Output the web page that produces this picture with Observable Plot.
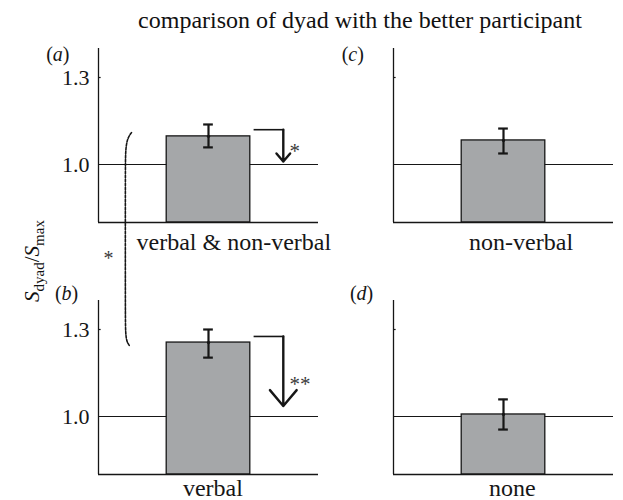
<!DOCTYPE html>
<html>
<head>
<meta charset="utf-8">
<script src="https://cdn.jsdelivr.net/npm/d3@7"></script>
<script src="https://cdn.jsdelivr.net/npm/@observablehq/plot@0.6"></script>
<style>
  html, body { margin: 0; padding: 0; background: #fff; }
  #wrap { position: relative; width: 623px; height: 500px; overflow: hidden; font-family: "Liberation Serif", "DejaVu Serif", serif; color: #111; }
  #title { position: absolute; left: 360px; top: 8px; transform: translateX(-50%); font-size: 24px; line-height: 24px; white-space: nowrap; }
  #ylab { position: absolute; left: 32px; top: 261px; transform: translate(-50%, -50%) rotate(-90deg); font-size: 21px; line-height: 21px; white-space: nowrap; }
  #ylab sub { font-size: 15px; vertical-align: -5px; line-height: 0; }
  #plot { position: absolute; left: 0; top: 0; }
</style>
</head>
<body>
<div id="wrap">
  <div id="plot"></div>
  <div id="title">comparison of dyad with the better participant</div>
  <div id="ylab"><i>S</i><sub>dyad</sub>/<i>S</i><sub>max</sub></div>
</div>
<script>
// ---- data ----
const categories = ["verbal & non-verbal", "non-verbal", "verbal", "none"];
const panelLetters = ["a", "c", "b", "d"];
const panelCols = [0, 1, 0, 1];
const panelRows = [0, 0, 1, 1];
const means   = [1.097, 1.083, 1.255, 1.007];
const errLow  = [1.059, 1.038, 1.203, 0.955];
const errHigh = [1.138, 1.124, 1.300, 1.059];
const sigLabels = ["*", "", "**", ""];
const arrowFrom = [1.12, null, 1.276, null];
const arrowTo   = [1.010, null, 1.036, null];
const yTicks = [1.0, 1.3];
const yDomain = [0.8, 1.4];
const bracketLabel = "*";

// ---- layout constants ----
const W = 623, H = 500;
const mTop = 48, mBottom = 26, mLeft = 98, mRight = 10;
const panelW = 220, panelH = 174, gapX = 75, gapY = 78;
const barHalf = 0.19, capHalf = 0.022, barCenter = 0.5;
const arrowX0 = 0.705, arrowX1 = 0.84;
const labelShift = [0.115, 0.08, 0.02, 0.04];      // category label horizontal nudges (x units)
const labelYByRow = [0.731, 0.754];                // category label centre, per row (y units)
const letterXByRow = [-0.185, -0.145];
const letterYByRow = [1.38, 1.425];

const rows = categories.map((c, i) => ({
  cat: c, letter: panelLetters[i], col: panelCols[i], row: panelRows[i],
  mean: means[i], lo: errLow[i], hi: errHigh[i], sig: sigLabels[i],
  from: arrowFrom[i], to: arrowTo[i], shift: labelShift[i]
}));

const arrowRows = rows.filter(d => d.from != null);

// bracket linking panel (a) bar to panel (b) bar, drawn in panel (a) coordinates
const pxPerUnit = panelH / (yDomain[1] - yDomain[0]);
const rowShift = (panelH + gapY) / pxPerUnit;
const yA = means[0] + 0.013;
const yB = means[2] - rowShift - 0.01;
const bracketPts = [
  [0.150, yA], [0.131, yA - 0.02], [0.123, yA - 0.06], [0.122, yA - 0.12],
  [0.122, yB + 0.10], [0.123, yB + 0.04], [0.129, yB + 0.012], [0.140, yB]
].map(([x, y]) => ({x, y, col: 0, row: 0}));

const pInX = gapX / (panelW + gapX);
const pInY = gapY / (panelH + gapY);

const ink = "#161616";

const svg = Plot.plot({
  width: W, height: H,
  marginTop: mTop, marginBottom: mBottom, marginLeft: mLeft, marginRight: mRight,
  style: {fontFamily: "Liberation Serif, serif", fontSize: "22px", color: ink, background: "transparent", overflow: "visible"},
  fx: {domain: [0, 1], paddingInner: pInX, paddingOuter: 0, axis: null, round: false},
  fy: {domain: [0, 1], paddingInner: pInY, paddingOuter: 0, axis: null, round: false},
  x: {domain: [0, 1], axis: null},
  y: {domain: yDomain},
  marks: [
    Plot.ruleY([1.0], {stroke: ink, strokeWidth: 1.2}),
    Plot.rectY(rows, {x1: barCenter - barHalf, x2: barCenter + barHalf, y1: yDomain[0], y2: "mean", fx: "col", fy: "row", fill: "#a5a7a9", stroke: ink, strokeWidth: 1.3}),
    Plot.ruleX([0], {stroke: ink, strokeWidth: 1.3}),
    Plot.ruleY([yDomain[0]], {stroke: ink, strokeWidth: 1.3}),
    Plot.ruleY([yTicks[1]], {x1: 0, x2: 0.012, stroke: ink, strokeWidth: 1.2}),
    Plot.axisY({ticks: yTicks, tickSize: 0, tickPadding: 9, tickFormat: ".1f", label: null, fontSize: 22}),
    // error bars
    Plot.ruleX(rows, {x: barCenter, y1: "lo", y2: "hi", fx: "col", fy: "row", stroke: ink, strokeWidth: 2.2}),
    Plot.ruleY(rows, {y: "hi", x1: barCenter - capHalf, x2: barCenter + capHalf, fx: "col", fy: "row", stroke: ink, strokeWidth: 2.2}),
    Plot.ruleY(rows, {y: "lo", x1: barCenter - capHalf, x2: barCenter + capHalf, fx: "col", fy: "row", stroke: ink, strokeWidth: 2.2}),
    Plot.dot(rows, {x: barCenter, y: "mean", r: 1.6, fill: ink, fx: "col", fy: "row"}),
    // significance arrows: horizontal lead + downward arrow
    Plot.link(arrowRows, {x1: arrowX0, x2: arrowX1 + 0.004, y1: "from", y2: "from", fx: "col", fy: "row", stroke: ink, strokeWidth: 1.6}),
    Plot.arrow(arrowRows, {x1: arrowX1, x2: arrowX1, y1: "from", y2: "to", fx: "col", fy: "row", stroke: ink, strokeWidth: 2.4, headLength: 13, headAngle: 80}),
    Plot.text(arrowRows, {x: arrowX1 + 0.028, y: d => d.to + 0.32 * (d.from - d.to), text: "sig", fx: "col", fy: "row", textAnchor: "start", fontSize: 21, fill: "#3a3a3a"}),
    // bracket between (a) and (b)
    Plot.line(bracketPts, {x: "x", y: "y", fx: "col", fy: "row", curve: "basis", stroke: ink, strokeWidth: 1.6, strokeDasharray: "2.6,1.4"}),
    Plot.text([{col: 0, row: 0}], {x: 0.045, y: 0.676, text: () => bracketLabel, fx: "col", fy: "row", fontSize: 20, fill: "#3a3a3a"}),
    // panel letters and category labels
    Plot.text(rows, {x: d => letterXByRow[d.row], y: d => letterYByRow[d.row], text: d => `(${d.letter})`, fx: "col", fy: "row", fontSize: 20}),
    Plot.text(rows, {x: d => barCenter + d.shift, y: d => labelYByRow[d.row], text: "cat", fx: "col", fy: "row", fontSize: 24})
  ]
});

// italic panel letters with upright parentheses
d3.select(svg).selectAll("text").each(function () {
  const t = this.textContent;
  const m = /^\(([a-d])\)$/.exec(t);
  if (m) {
    const sel = d3.select(this);
    sel.text(null);
    sel.append("tspan").text("(");
    sel.append("tspan").attr("font-style", "italic").text(m[1]);
    sel.append("tspan").text(")");
  }
});

document.getElementById("plot").appendChild(svg);
</script>
</body>
</html>
